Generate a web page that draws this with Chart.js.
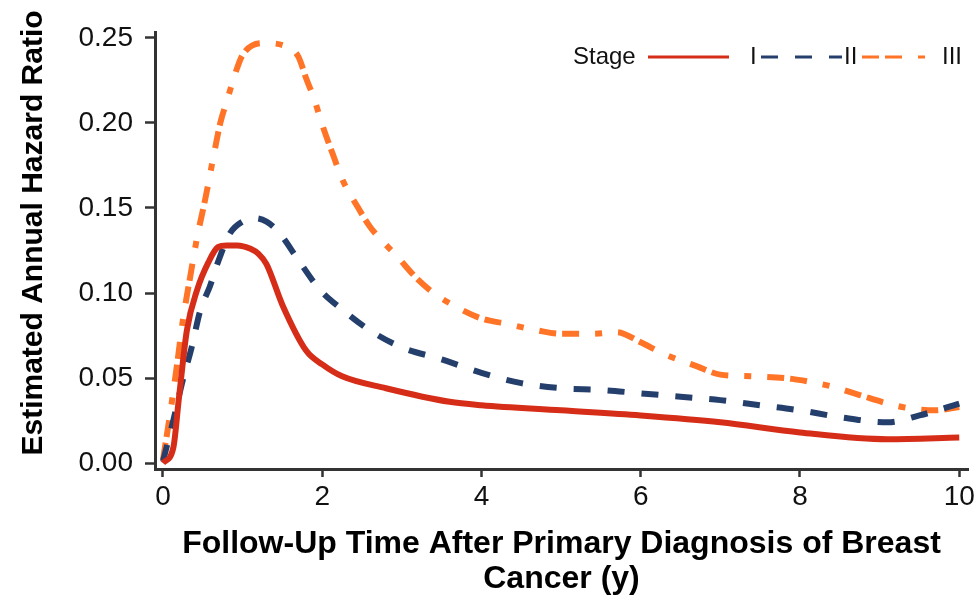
<!DOCTYPE html>
<html>
<head>
<meta charset="utf-8">
<script src="https://cdn.jsdelivr.net/npm/chart.js@4.4.1/dist/chart.umd.min.js"></script>
<style>
html,body{margin:0;padding:0;background:#ffffff;}
#wrap{width:979px;height:600px;position:relative;}
</style>
</head>
<body>
<div id="wrap"><canvas id="c" width="979" height="600"></canvas></div>
<script>
// ---- data ----
const stageLabels = ['I', 'II', 'III'];
const legendTitle = 'Stage';
const xAxisTitle = ['Follow-Up Time After Primary Diagnosis of Breast', 'Cancer (y)'];
const yAxisTitle = 'Estimated Annual Hazard Ratio';
const xTickValues = [0, 2, 4, 6, 8, 10];
const yTickValues = [0, 0.05, 0.10, 0.15, 0.20, 0.25];

const timeI   = [0, 0.13, 0.2, 0.3, 0.43, 0.57, 0.69, 0.8, 0.93, 1.1, 1.2, 1.3, 1.5, 1.8, 2.0, 2.25, 2.8, 3.6, 4.0, 5.0, 6.0, 7.0, 8.0, 9.1, 10];
const hazardI = [0, 0.009, 0.038, 0.078, 0.102, 0.118, 0.127, 0.128, 0.128, 0.126, 0.123, 0.117, 0.093, 0.066, 0.058, 0.051, 0.044, 0.036, 0.034, 0.031, 0.028, 0.024, 0.018, 0.014, 0.015];

const timeII   = [0, 0.13, 0.25, 0.36, 0.47, 0.59, 0.69, 0.84, 1.0, 1.15, 1.3, 1.45, 1.72, 1.97, 2.26, 2.6, 3.0, 3.5, 4.0, 4.5, 5.0, 5.5, 6.0, 6.5, 7.0, 7.5, 8.0, 8.5, 9.1, 9.5, 10];
const hazardII = [0.001, 0.025, 0.049, 0.068, 0.090, 0.104, 0.118, 0.135, 0.142, 0.144, 0.142, 0.136, 0.118, 0.102, 0.090, 0.078, 0.068, 0.061, 0.053, 0.047, 0.044, 0.043, 0.041, 0.039, 0.037, 0.034, 0.031, 0.027, 0.024, 0.028, 0.035];

const timeIII   = [0, 0.09, 0.18, 0.25, 0.34, 0.43, 0.53, 0.65, 0.72, 0.81, 0.9, 1.0, 1.25, 1.55, 1.7, 1.8, 1.9, 2.0, 2.13, 2.26, 2.44, 2.6, 2.95, 3.2, 3.4, 3.6, 4.0, 4.3, 4.7, 5.0, 5.4, 5.7, 6.0, 6.3, 6.7, 7.0, 7.4, 7.9, 8.1, 8.4, 8.75, 9.1, 9.4, 9.7, 10];
const hazardIII = [0.002, 0.029, 0.059, 0.084, 0.109, 0.133, 0.155, 0.184, 0.200, 0.214, 0.228, 0.240, 0.247, 0.245, 0.239, 0.226, 0.214, 0.199, 0.182, 0.166, 0.151, 0.139, 0.121, 0.108, 0.100, 0.094, 0.085, 0.082, 0.078, 0.076, 0.076, 0.077, 0.071, 0.064, 0.057, 0.052, 0.051, 0.0495, 0.048, 0.045, 0.040, 0.035, 0.032, 0.031, 0.033];

// ---- styles ----
const colors = ['#D62D18', '#243F6C', '#FF7426'];
const dashes = [[], [17, 17], [17, 6, 17, 16, 7, 16]];
const FONT = '"Liberation Sans", Arial, Helvetica, sans-serif';

function pts(t, v) { return t.map((x, i) => ({ x: x, y: v[i] })); }

const seriesData = [pts(timeI, hazardI), pts(timeII, hazardII), pts(timeIII, hazardIII)];

const legendPlugin = {
  id: 'stageLegend',
  afterDraw(chart, args, opts) {
    const ctx = chart.ctx;
    ctx.save();
    ctx.font = '24px ' + FONT;
    ctx.fillStyle = '#111';
    ctx.textBaseline = 'middle';
    ctx.textAlign = 'left';
    ctx.fillText(legendTitle, opts.titleX, opts.y);
    chart.data.datasets.forEach((ds, i) => {
      const it = opts.items[i];
      ctx.save();
      ctx.strokeStyle = ds.borderColor;
      ctx.lineWidth = opts.lineWidth;
      ctx.lineCap = 'butt';
      ctx.setLineDash(ds.borderDash || []);
      ctx.beginPath();
      ctx.moveTo(it.x0, opts.y);
      ctx.lineTo(it.x1, opts.y);
      ctx.stroke();
      ctx.restore();
      ctx.fillText(ds.label, it.tx, opts.y);
    });
    // y axis title
    ctx.translate(opts.yTitleX, opts.yTitleY);
    ctx.rotate(-Math.PI / 2);
    ctx.font = 'bold 30px ' + FONT;
    ctx.fillStyle = '#000';
    ctx.textAlign = 'center';
    ctx.textBaseline = 'middle';
    ctx.fillText(yAxisTitle, 0, 0);
    ctx.restore();
  }
};

new Chart(document.getElementById('c'), {
  type: 'line',
  data: {
    datasets: seriesData.map((d, i) => ({
      label: stageLabels[i],
      data: d,
      borderColor: colors[i],
      backgroundColor: colors[i],
      borderWidth: 6,
      borderDash: dashes[i],
      borderCapStyle: 'butt',
      borderJoinStyle: 'round',
      pointRadius: 0,
      pointHoverRadius: 0,
      fill: false,
      cubicInterpolationMode: 'monotone'
    }))
  },
  options: {
    responsive: false,
    devicePixelRatio: 1,
    animation: false,
    events: [],
    layout: { padding: { left: 0, right: 11, top: 32, bottom: 0 } },
    plugins: {
      legend: { display: false },
      tooltip: { enabled: false },
      stageLegend: {
        titleX: 573, y: 57, lineWidth: 3,
        items: [
          { x0: 648, x1: 729, tx: 750 },
          { x0: 761, x1: 842, tx: 844 },
          { x0: 862, x1: 929, tx: 942 }
        ],
        yTitleX: 34, yTitleY: 233
      }
    },
    scales: {
      x: {
        type: 'linear',
        min: -0.1,
        max: 10.11,
        afterBuildTicks: s => { s.ticks = xTickValues.map(v => ({ value: v })); },
        afterFit: s => { s.height = 131; },
        ticks: {
          autoSkip: false, maxRotation: 0, padding: 3, color: '#111',
          font: { family: FONT, size: 28 },
          callback: v => String(v)
        },
        grid: { display: true, drawOnChartArea: false, tickLength: 8, tickWidth: 2.5, tickColor: '#333' },
        border: { display: true, width: 3, color: '#333' },
        title: {
          display: true, text: xAxisTitle, color: '#000',
          font: { family: FONT, size: 32, weight: 'bold', lineHeight: 1.1 },
          padding: { top: 0, bottom: 3 }
        }
      },
      y: {
        type: 'linear',
        min: -0.0035,
        max: 0.2535,
        afterBuildTicks: s => { s.ticks = yTickValues.map(v => ({ value: v })); },
        afterFit: s => { s.width = 155; },
        ticks: {
          autoSkip: false, padding: 12, color: '#111',
          font: { family: FONT, size: 28 },
          callback: v => Number(v).toFixed(2)
        },
        grid: { display: true, drawOnChartArea: false, tickLength: 10, tickWidth: 2.5, tickColor: '#333' },
        border: { display: true, width: 3, color: '#333' },
        title: { display: false }
      }
    }
  },
  plugins: [legendPlugin]
});
</script>
</body>
</html>
